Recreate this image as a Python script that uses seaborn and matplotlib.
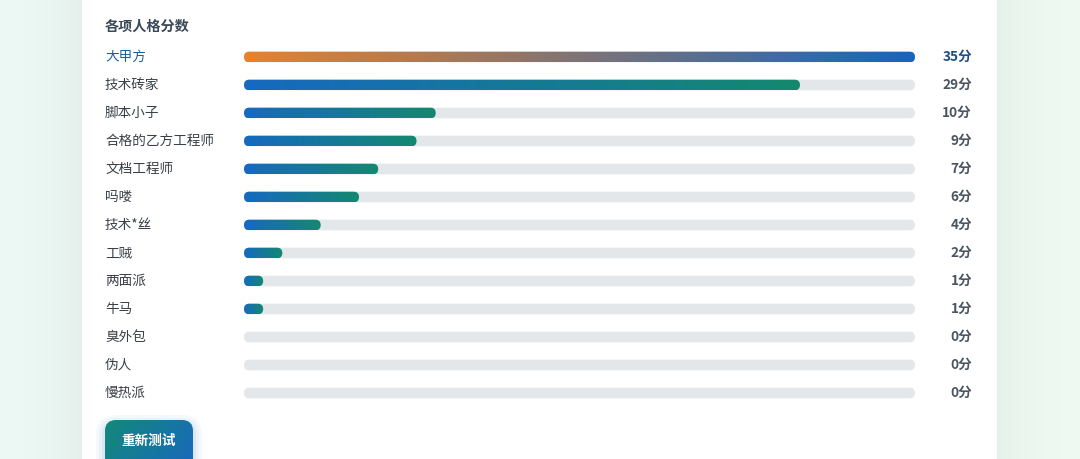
import numpy as np
import pandas as pd
import seaborn as sns
import matplotlib.pyplot as plt
from matplotlib.patches import FancyBboxPatch, Rectangle
from matplotlib.colors import LinearSegmentedColormap, to_rgb
import matplotlib.transforms as mtransforms

# Data
names = ["大甲方", "技术砖家", "脚本小子", "合格的乙方工程师", "文档工程师", "吗喽",
         "技术*丝", "工贼", "两面派", "牛马", "臭外包", "伪人", "慢热派"]
scores = [35, 29, 10, 9, 7, 6, 4, 2, 1, 1, 0, 0, 0]
max_score = 35
title = "各项人格分数"
button_label = "重新测试"

sns.set_theme(style="white")
plt.rcParams['font.family'] = ['Noto Sans CJK SC', 'DejaVu Sans']

W, H = 1080, 459
fig = plt.figure(figsize=(W / 100, H / 100), dpi=100)

# page background + white card (pixel coords, y down)
ax_bg = fig.add_axes([0, 0, 1, 1], zorder=0)
xs = np.arange(W)
c_left, c_right = np.array(to_rgb('#eefaf5')), np.array(to_rgb('#f0fbf4'))
base = c_left + np.linspace(0, 1, W)[:, None] * (c_right - c_left)
dist = np.minimum(np.abs(xs - 81), np.abs(xs - 997))
shade = 0.04 * np.exp(-dist / 40.0)
bg = base * (1 - shade[:, None])
ax_bg.imshow(bg[None, :, :], extent=[0, W, H, 0], aspect='auto', zorder=0)
ax_bg.add_patch(Rectangle((81, -10), 916, H + 20, facecolor='white', edgecolor='#e6eeea', lw=0.8, zorder=1))
ax_bg.set_xlim(0, W)
ax_bg.set_ylim(H, 0)
ax_bg.axis('off')

ax_bg.text(105, 27, title, fontsize=10.2, fontweight='bold', color='#3b4a58', ha='left', va='center', zorder=5)

# restart button
for k, a in [(9, 0.035), (6, 0.05), (3, 0.07)]:
    ax_bg.add_patch(FancyBboxPatch((105 - k, 420 - k + 4), 88 + 2 * k, 60 + 2 * k,
                                   boxstyle=f'round,pad=0,rounding_size={11 + k}',
                                   facecolor='#1a6bbf', alpha=a, lw=0, zorder=2))
btn = FancyBboxPatch((105, 420), 88, 60, boxstyle='round,pad=0,rounding_size=11',
                     facecolor='none', lw=0, zorder=3)
ax_bg.add_patch(btn)
gx, gy = np.meshgrid(np.linspace(0, 1, 90), np.linspace(0, 1, 60))
btn_cmap = LinearSegmentedColormap.from_list('btn', ['#12897a', '#1a66c2'])
im = ax_bg.imshow((0.65 * gx + 0.35 * gy), extent=[105, 193, 480, 420], cmap=btn_cmap,
                  aspect='auto', zorder=3)
im.set_clip_path(btn)
ax_bg.text(149, 441, button_label, fontsize=9.8, fontweight='bold', color='white',
           ha='center', va='center', zorder=6)
ax_bg.set_xlim(0, W)
ax_bg.set_ylim(H, 0)

# bars
ax = fig.add_axes([244 / W, (H - 407) / H, 671 / W, 364 / H], zorder=2)
ax.set_facecolor('none')
df = pd.DataFrame({'name': names, 'score': scores, 'track': [max_score] * len(names)})
bar_w = 0.38
sns.barplot(data=df, x='track', y='name', orient='h', color='#e4e7ea', width=bar_w, ax=ax)
n_track = len(ax.patches)
sns.barplot(data=df, x='score', y='name', orient='h', color='#1a68bc', width=bar_w, ax=ax)
ax.set_xlim(0, max_score)
ax.set_ylim(len(names) - 0.5, -0.5)
ax.axis('off')

p0 = ax.transData.transform((0, 0))
p1 = ax.transData.transform((1, 1))
px_x, px_y = abs(p1[0] - p0[0]), abs(p1[1] - p0[1])
m = px_x / px_y
r = (bar_w * px_y / 2) / px_x

cm_top = LinearSegmentedColormap.from_list('top', ['#e8822b', '#1565c0'])
cm_rest = LinearSegmentedColormap.from_list('rest', ['#1769c0', '#13896f'])
grad = np.linspace(0, 1, 256)[None, :]

patches = list(ax.patches)
for i, p in enumerate(patches):
    x0, y0, w, h = p.get_x(), p.get_y(), p.get_width(), p.get_height()
    p.remove()
    if w <= 0:
        continue
    is_score = i >= n_track
    rb = FancyBboxPatch((x0, y0), w, h, boxstyle=f'round,pad=0,rounding_size={r}',
                        mutation_aspect=m, lw=0,
                        facecolor='none' if is_score else '#e4e7ea',
                        zorder=3 if is_score else 2)
    ax.add_patch(rb)
    if is_score:
        row = i - n_track
        cmap = cm_top if row == 0 else cm_rest
        gi = ax.imshow(grad, extent=[x0, x0 + w, y0 + h, y0], cmap=cmap, aspect='auto', zorder=3)
        gi.set_clip_path(rb)

ax.set_xlim(0, max_score)
ax.set_ylim(len(names) - 0.5, -0.5)
ax.set_aspect('auto')

# labels
trans = mtransforms.blended_transform_factory(fig.transFigure, ax.transData)
for i, (nm, sc) in enumerate(zip(names, scores)):
    top = i == 0
    ax.text(105 / W, i, nm, transform=trans, ha='left', va='center', fontsize=9.8,
            color='#1b5e9e' if top else '#3a4047', clip_on=False)
    ax.text(972 / W, i, f"{sc}分", transform=trans, ha='right', va='center', fontsize=9.8,
            fontweight='bold', color='#1f4f82' if top else '#4a5561', clip_on=False)

fig.savefig('out.png', dpi=100)
